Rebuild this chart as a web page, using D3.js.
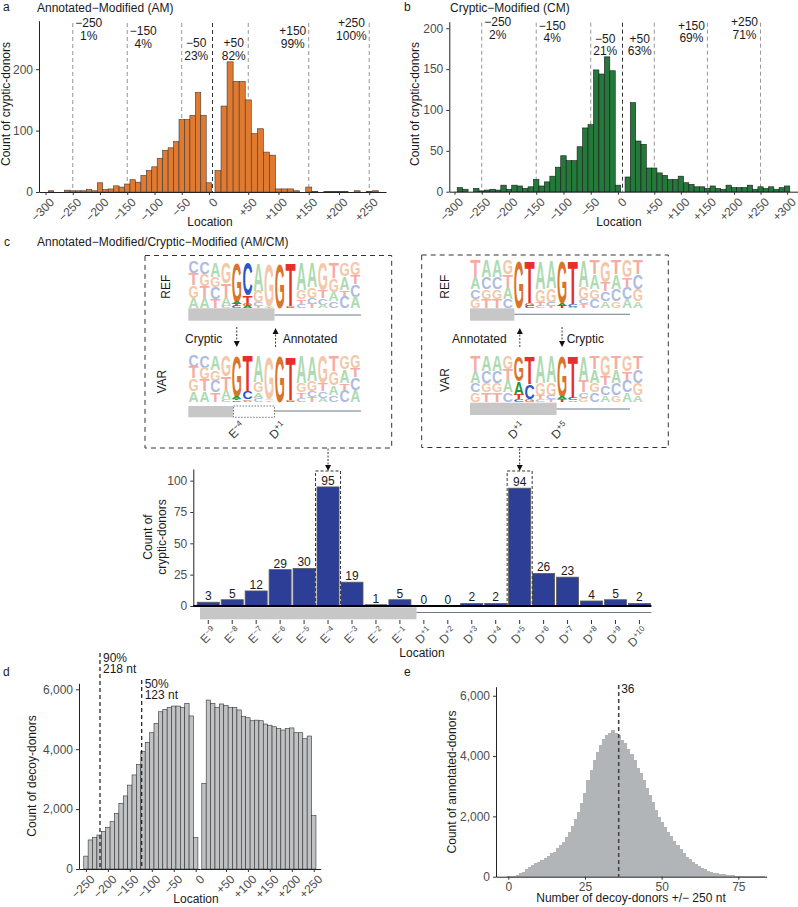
<!DOCTYPE html>
<html>
<head>
<meta charset="utf-8">
<script src="https://cdn.jsdelivr.net/npm/d3@7/dist/d3.min.js"></script>
<style>
html,body{margin:0;padding:0;background:#fff;}
svg{display:block;}
</style>
</head>
<body>
<svg id="fig"></svg>
<script>
// ================= DATA =================
// Panel a: Annotated-Modified (AM), bins of 10 nt
const amNegLoc   = [-290,-280,-270,-260,-250,-240,-230,-220,-210,-200,-190,-180,-170,-160,-150,-140,-130,-120,-110,-100,-90,-80,-70,-60,-50,-40,-30,-20,-10,0];
const amNegCount = [2,0,0,3,2,2,2,4,2,15,4,5,10,8,13,20,16,27,35,41,55,68,72,82,118,118,125,162,125,15];
const amPosLoc   = [0,10,20,30,40,50,60,70,80,90,100,110,120,130,140,150,160,170,180,190,200,210,220,230,240,250,260];
const amPosCount = [35,140,212,180,180,150,95,103,65,60,5,5,5,2,0,8,1,0,1,1,1,1,0,2,0,1,2];
const amCuts = [-250,-150,-50,50,150,250];
const amPct  = ["1%","4%","23%","82%","99%","100%"];

// Panel b: Cryptic-Modified (CM)
const cmNegLoc   = [-290,-280,-270,-260,-250,-240,-230,-220,-210,-200,-190,-180,-170,-160,-150,-140,-130,-120,-110,-100,-90,-80,-70,-60,-50,-40,-30,-20,-10,0];
const cmNegCount = [5,3,0,4,1,2,3,2,8,3,8,7,4,6,15,7,12,19,30,44,38,38,55,78,82,149,144,165,148,8];
const cmPosLoc   = [0,10,20,30,40,50,60,70,80,90,100,110,120,130,140,150,160,170,180,190,200,210,220,230,240,250,260,270,280,290,300];
const cmPosCount = [18,109,62,58,29,29,23,20,15,15,19,11,9,6,6,4,7,4,3,8,5,5,5,8,3,6,4,6,3,5,7];
const cmCuts = [-250,-150,-50,50,150,250];
const cmPct  = ["2%","4%","21%","63%","69%","71%"];

// Panel c: exact-location counts
const siteCategory = ["E\u22129","E\u22128","E\u22127","E\u22126","E\u22125","E\u22124","E\u22123","E\u22122","E\u22121","D+1","D+2","D+3","D+4","D+5","D+6","D+7","D+8","D+9","D+10"];
const siteCount    = [3,5,12,29,30,95,19,1,5,0,0,2,2,94,26,23,4,5,2];
const siteHighlight = ["E\u22124","D+5"];

// Panel c sequence logos (column: [letter, probability] from top to bottom)
const logoLeftRef = [
 [["C",.25],["T",.25],["G",.27],["A",.23]],
 [["C",.27],["G",.25],["T",.25],["A",.23]],
 [["A",.33],["G",.22],["C",.25],["T",.20]],
 [["G",.45],["T",.30],["A",.20],["C",.05]],
 [["G",.86],["A",.05],["T",.05],["C",.04]],
 [["C",.72],["T",.20],["G",.04],["A",.04]],
 [["A",.62],["G",.25],["C",.08],["T",.05]],
 [["G",.94],["A",.03],["T",.03]],
 [["G",1]],
 [["T",.96],["G",.02],["C",.02]],
 [["A",.60],["G",.20],["T",.12],["C",.08]],
 [["A",.55],["G",.22],["C",.13],["T",.10]],
 [["G",.60],["T",.18],["C",.14],["A",.08]],
 [["T",.35],["G",.30],["A",.20],["C",.15]],
 [["G",.30],["A",.30],["T",.15],["C",.25]],
 [["G",.28],["T",.20],["C",.27],["A",.25]]
];
const logoLeftVar = [
 [["C",.25],["T",.25],["G",.27],["A",.23]],
 [["C",.27],["G",.25],["T",.25],["A",.23]],
 [["A",.33],["G",.22],["C",.25],["T",.20]],
 [["G",.45],["T",.30],["A",.20],["C",.05]],
 [["G",.90],["A",.04],["T",.03],["C",.03]],
 [["T",.78],["C",.17],["G",.03],["A",.02]],
 [["A",.58],["G",.22],["A",.12],["C",.08]],
 [["G",.94],["A",.03],["T",.03]],
 [["G",1]],
 [["T",.96],["G",.02],["C",.02]],
 [["A",.60],["G",.20],["T",.12],["C",.08]],
 [["A",.55],["G",.22],["C",.13],["T",.10]],
 [["G",.60],["T",.18],["C",.14],["A",.08]],
 [["T",.35],["G",.30],["A",.20],["C",.15]],
 [["G",.30],["A",.30],["T",.15],["C",.25]],
 [["G",.28],["T",.20],["C",.27],["A",.25]]
];
const logoRightRef = [
 [["T",.35],["A",.25],["C",.20],["G",.20]],
 [["A",.35],["C",.25],["G",.20],["T",.20]],
 [["A",.35],["C",.25],["G",.20],["T",.20]],
 [["G",.30],["T",.25],["A",.25],["C",.20]],
 [["G",1]],
 [["T",.90],["G",.05],["C",.05]],
 [["A",.60],["G",.28],["T",.07],["C",.05]],
 [["A",.58],["G",.30],["C",.07],["T",.05]],
 [["G",.90],["A",.05],["T",.05]],
 [["T",.92],["C",.05],["A",.03]],
 [["A",.55],["G",.25],["C",.12],["T",.08]],
 [["T",.30],["A",.30],["G",.20],["C",.20]],
 [["G",.45],["T",.20],["C",.20],["A",.15]],
 [["T",.30],["A",.30],["C",.25],["G",.15]],
 [["G",.35],["T",.20],["C",.25],["A",.20]],
 [["T",.30],["C",.30],["G",.25],["A",.15]]
];
const logoRightVar = [
 [["T",.35],["A",.25],["C",.20],["G",.20]],
 [["A",.35],["C",.25],["G",.20],["T",.20]],
 [["A",.35],["C",.25],["G",.20],["T",.20]],
 [["G",.30],["T",.25],["A",.25],["C",.20]],
 [["G",.55],["A",.30],["T",.10],["C",.05]],
 [["T",.62],["C",.33],["G",.05]],
 [["A",.60],["G",.28],["T",.07],["C",.05]],
 [["A",.58],["G",.30],["C",.07],["T",.05]],
 [["G",.90],["A",.05],["T",.05]],
 [["T",.92],["C",.05],["A",.03]],
 [["A",.55],["T",.25],["C",.12],["G",.08]],
 [["T",.30],["A",.30],["G",.20],["C",.20]],
 [["G",.45],["T",.20],["C",.20],["A",.15]],
 [["T",.30],["A",.30],["C",.25],["G",.15]],
 [["G",.35],["T",.20],["C",.25],["A",.20]],
 [["T",.30],["C",.30],["G",.25],["A",.15]]
];
const logoVividCols = [4,5,8,9];

// Panel d: decoy-donors
const decoyNegLoc   = [-250,-240,-230,-220,-210,-200,-190,-180,-170,-160,-150,-140,-130,-120,-110,-100,-90,-80,-70,-60,-50,-40,-30,-20,-10,0];
const decoyNegCount = [430,970,1050,1135,1250,1390,1580,1860,2190,2440,2800,3140,3490,3920,4230,4550,4860,5250,5330,5390,5440,5440,5400,5530,5110,1050];
const decoyPosLoc   = [0,10,20,30,40,50,60,70,80,90,100,110,120,130,140,150,160,170,180,190,200,210,220,230,240,250];
const decoyPosCount = [2860,5640,5530,5400,5510,5460,5400,5390,5310,5090,5050,4950,4970,4950,4840,4800,4750,4690,4640,4690,4710,4550,4550,4350,4440,1780];
const decoyCuts   = [-218,-123];
const decoyCutPct = ["90%","50%"];
const decoyCutNt  = ["218 nt","123 nt"];

// Panel e: number of decoy-donors per annotated donor
const numDecoy = [0,1,2,3,4,5,6,7,8,9,10,11,12,13,14,15,16,17,18,19,20,21,22,23,24,25,26,27,28,29,30,31,32,33,34,35,36,37,38,39,40,41,42,43,44,45,46,47,48,49,50,51,52,53,54,55,56,57,58,59,60,61,62,63,64,65,66,67,68,69,70,71,72,73,74,75,76,77,78,79,80,81,82,83,84,85];
const annotCount = [10,12,20,55,110,165,245,310,390,440,500,550,610,685,775,830,940,1050,1160,1330,1490,1680,1900,2150,2430,2760,3200,3540,3870,4140,4360,4550,4700,4770,4860,4750,4700,4530,4420,4250,4070,3870,3620,3430,3200,2930,2710,2490,2210,1990,1820,1660,1490,1350,1190,1050,910,775,665,575,500,420,355,300,245,200,165,135,110,90,77,66,55,44,33,33,30,25,20,18,15,12,10,8,6,5];
const medianDecoy = 36;

// ================= DRAWING =================
const FONT = '"Liberation Sans", Arial, Helvetica, sans-serif';
const svg = d3.select("#fig").attr("width",798).attr("height",907)
  .attr("font-family",FONT).style("background","#fff");
const fmtLoc = v => v>0 ? "+"+v : (v<0 ? "\u2212"+(-v) : "0");
const TICK_COL = "#4d4d4d";

function styleAxis(ax, fs){
  ax.attr("font-size",fs||12).attr("font-family",FONT);
  ax.selectAll(".tick text").attr("fill",TICK_COL);
  ax.selectAll(".tick line").attr("stroke","#333");
  ax.select(".domain").attr("stroke","#222").attr("stroke-width",1);
}
function drawHist(g, locs, counts, x, y, fill, stroke, w){
  g.append("g").selectAll("rect").data(locs.map((l,i)=>({l,c:counts[i]}))).join("rect")
    .attr("x",d=>x(d.l-w/2)).attr("width",d=>x(d.l+w/2)-x(d.l-w/2))
    .attr("y",d=>y(d.c)).attr("height",d=>y(0)-y(d.c))
    .attr("fill",fill).attr("stroke",stroke).attr("stroke-width",0.6);
}
function rotatedBottomAxis(g, x, ticks, yPos){
  const ax = g.append("g").attr("transform",`translate(0,${yPos})`)
    .call(d3.axisBottom(x).tickValues(ticks).tickFormat(fmtLoc).tickSize(3).tickSizeOuter(0));
  styleAxis(ax,12);
  ax.selectAll(".tick text").attr("x",0).attr("y",0).attr("dy","0.71em")
    .attr("text-anchor","end").attr("transform","translate(3,5) rotate(-45)");
  return ax;
}
function leftAxis(g, y, ticks, xPos, fmt){
  const ax = g.append("g").attr("transform",`translate(${xPos},0)`)
    .call(d3.axisLeft(y).tickValues(ticks).tickSize(3).tickSizeOuter(0).tickFormat(fmt||d3.format("d")));
  styleAxis(ax,12);
  return ax;
}
function text(g, x, y, s, opts){
  opts = opts||{};
  const t = g.append("text").attr("x",x).attr("y",y).text(s)
    .attr("font-size",opts.size||12).attr("fill",opts.fill||"#1a1a1a")
    .attr("text-anchor",opts.anchor||"start");
  if(opts.rotate) t.attr("transform",`rotate(${opts.rotate},${x},${y})`);
  return t;
}
function cutLines(g, cuts, pcts, xn, xp, y, yTop, rowsY){
  const yb = y(0);
  cuts.forEach((c,i)=>{
    const x = c<0 ? xn(c) : xp(c);
    g.append("line").attr("x1",x).attr("x2",x).attr("y1",yTop).attr("y2",yb)
      .attr("stroke","#8a8a8a").attr("stroke-width",0.9).attr("stroke-dasharray","4,3");
    const t = g.append("text").attr("font-size",12).attr("fill","#1a1a1a").attr("text-anchor","middle");
    const t1 = t.append("tspan").text(fmtLoc(c));
    const t2 = t.append("tspan").text(pcts[i]);
    const w = Math.max(t1.node().getComputedTextLength(), t2.node().getComputedTextLength());
    const cx = c<0 ? x+2.5+w/2 : x-2.5-w/2;
    t1.attr("x",cx).attr("y",rowsY[i]);
    t2.attr("x",cx).attr("y",rowsY[i]+12.5);
  });
  const xm = xn.range()[1];
  g.append("line").attr("x1",xm).attr("x2",xm).attr("y1",yTop).attr("y2",yb)
    .attr("stroke","#333").attr("stroke-width",1).attr("stroke-dasharray","4,3");
}

// ---------- Panel a ----------
{
  const g = svg.append("g");
  const y = d3.scaleLinear().domain([0,279]).range([192,20.7]);
  const xn = d3.scaleLinear().domain([-312,6.5]).range([39,212.5]);
  const xp = d3.scaleLinear().domain([-9.1,277.7]).range([212.5,386]);
  cutLines(g, amCuts, amPct, xn, xp, y, 23, [27,35,47,47,35,27]);
  drawHist(g, amNegLoc, amNegCount, xn, y, "#e07a30", "#3a3a3a", 10);
  drawHist(g, amPosLoc, amPosCount, xp, y, "#e07a30", "#3a3a3a", 10);
  leftAxis(g, y, [0,100,200], 39);
  rotatedBottomAxis(g, xn, [-300,-250,-200,-150,-100,-50,0], 192);
  rotatedBottomAxis(g, xp, [50,100,150,200,250], 192);
  text(g, 3, 11, "a");
  text(g, 37, 12, "Annotated\u2212Modified (AM)");
  text(g, 10, 104, "Count of cryptic-donors", {anchor:"middle", rotate:-90});
  text(g, 210, 226, "Location", {anchor:"middle"});
}

// ---------- Panel b ----------
{
  const g = svg.append("g");
  const y = d3.scaleLinear().domain([0,208]).range([191.7,21.7]);
  const xn = d3.scaleLinear().domain([-309.5,8.3]).range([449.3,622.5]);
  const xp = d3.scaleLinear().domain([-9.8,320.5]).range([622.5,798]);
  cutLines(g, cmCuts, cmPct, xn, xp, y, 22.7, [26,29.5,42.5,42.5,29.5,26]);
  drawHist(g, cmNegLoc, cmNegCount, xn, y, "#24793a", "#1b1b1b", 10);
  drawHist(g, cmPosLoc, cmPosCount, xp, y, "#24793a", "#1b1b1b", 10);
  leftAxis(g, y, [0,50,100,150,200], 449.3);
  rotatedBottomAxis(g, xn, [-300,-250,-200,-150,-100,-50,0], 191.7);
  rotatedBottomAxis(g, xp, [50,100,150,200,250,300], 191.7);
  text(g, 404, 11, "b");
  text(g, 450, 12, "Cryptic\u2212Modified (CM)");
  text(g, 419, 104, "Count of cryptic-donors", {anchor:"middle", rotate:-90});
  text(g, 619, 226, "Location", {anchor:"middle"});
}

// ---------- Panel c ----------
const VIVID = {A:"#1c9a3c", C:"#2a57c6", G:"#d9742b", T:"#e8302b"};
const FADED = {A:"#acdab2", C:"#adbbe2", G:"#f3c7a8", T:"#f6aba3"};
function drawLogo(g, cols, x0, colW, yTop, yBot){
  const H = yBot - yTop;
  cols.forEach((col,i)=>{
    let yy = yTop;
    col.forEach(([L,f])=>{
      const h = f*H;
      if(h >= 0.8){
        g.append("text").text(L)
          .attr("x", x0+i*colW+colW*0.03).attr("y", yy+h)
          .attr("font-size", h/0.73).attr("font-weight","bold").attr("font-family",FONT)
          .attr("textLength",colW*0.94).attr("lengthAdjust","spacingAndGlyphs")
          .attr("fill", logoVividCols.includes(i) ? VIVID[L] : FADED[L]);
      }
      yy += h;
    });
  });
}
function supLabel(g, x, y, s, size){
  const t = g.append("text").attr("font-size",size).attr("fill","#333")
    .attr("text-anchor","end").attr("transform",`translate(${x},${y}) rotate(-45)`).attr("dy","0.71em");
  t.append("tspan").text(s[0]);
  t.append("tspan").attr("font-size",size*0.68).attr("dy",-size*0.38).text(s.slice(1));
  return t;
}
function dashArrow(g, x, y1, y2){
  const s = Math.sign(y2-y1);
  g.append("line").attr("x1",x).attr("x2",x).attr("y1",y1).attr("y2",y2-s*5)
    .attr("stroke","#222").attr("stroke-width",0.9).attr("stroke-dasharray","2,1.5");
  g.append("path").attr("d",`M${x-3},${y2-s*6}L${x+3},${y2-s*6}L${x},${y2}Z`).attr("fill","#111");
}
{
  const g = svg.append("g");
  text(g, 4, 246, "c");
  text(g, 37, 246, "Annotated\u2212Modified/Cryptic\u2212Modified (AM/CM)");

  // logo boxes
  g.append("rect").attr("x",145).attr("y",255.5).attr("width",246.7).attr("height",192.5)
    .attr("fill","none").attr("stroke","#333").attr("stroke-width",1).attr("stroke-dasharray","5,4");
  g.append("rect").attr("x",421.7).attr("y",255).attr("width",246.6).attr("height",192.5)
    .attr("fill","none").attr("stroke","#333").attr("stroke-width",1).attr("stroke-dasharray","5,4");

  // left logos
  const cwL = 10.77, x0L = 188.3;
  drawLogo(g, logoLeftRef, x0L, cwL, 261.7, 308.3);
  drawLogo(g, logoLeftVar, x0L, cwL, 355, 401.7);
  g.append("rect").attr("x",x0L).attr("y",308.3).attr("width",cwL*8).attr("height",12.4).attr("fill","#c7c7c7");
  g.append("line").attr("x1",x0L+cwL*8).attr("x2",361).attr("y1",315).attr("y2",315).attr("stroke","#6b7b8b").attr("stroke-width",1.1);
  g.append("rect").attr("x",x0L).attr("y",406).attr("width",cwL*4.2).attr("height",11.3).attr("fill","#c7c7c7");
  g.append("rect").attr("x",x0L+cwL*4.2).attr("y",406).attr("width",cwL*3.8).attr("height",11.3)
    .attr("fill","#fff").attr("stroke","#555").attr("stroke-width",0.8).attr("stroke-dasharray","1.5,1.5");
  g.append("line").attr("x1",x0L+cwL*8).attr("x2",361).attr("y1",411).attr("y2",411).attr("stroke","#6b7b8b").attr("stroke-width",1.1);
  text(g, 170, 286.7, "REF", {anchor:"middle", rotate:-90});
  text(g, 166, 381.7, "VAR", {anchor:"middle", rotate:-90});
  text(g, 185, 342.5, "Cryptic");
  dashArrow(g, x0L+cwL*4.5, 327, 347);
  text(g, 282.7, 342.5, "Annotated");
  dashArrow(g, x0L+cwL*8.1, 347, 328);
  supLabel(g, x0L+cwL*4.5+3, 421, "E\u22124", 12);
  supLabel(g, x0L+cwL*8.5+1, 421, "D+1", 12);

  // right logos
  const cwR = 10.83, x0R = 470;
  drawLogo(g, logoRightRef, x0R, cwR, 260, 308.3);
  drawLogo(g, logoRightVar, x0R, cwR, 355, 401.7);
  g.append("rect").attr("x",x0R).attr("y",308.3).attr("width",cwR*4.1).attr("height",12.4).attr("fill","#c7c7c7");
  g.append("line").attr("x1",x0R+cwR*4.1).attr("x2",630).attr("y1",314.3).attr("y2",314.3).attr("stroke","#6b7b8b").attr("stroke-width",1.1);
  g.append("rect").attr("x",x0R).attr("y",402.7).attr("width",cwR*8).attr("height",12.3).attr("fill","#c7c7c7");
  g.append("line").attr("x1",x0R+cwR*8).attr("x2",630).attr("y1",409).attr("y2",409).attr("stroke","#6b7b8b").attr("stroke-width",1.1);
  text(g, 449, 286.7, "REF", {anchor:"middle", rotate:-90});
  text(g, 449, 380, "VAR", {anchor:"middle", rotate:-90});
  text(g, 506.7, 342.5, "Annotated", {anchor:"end"});
  dashArrow(g, x0R+cwR*4.6, 347, 328);
  text(g, 566.7, 342.5, "Cryptic");
  dashArrow(g, x0R+cwR*8.5, 327, 347);
  supLabel(g, x0R+cwR*4.5+1, 421, "D+1", 12);
  supLabel(g, x0R+cwR*8.5+1, 421, "D+5", 12);

  // bar chart
  const band = d3.scaleBand().domain(siteCategory).range([196.3,651.4]).paddingInner(0.08).paddingOuter(0.04);
  const y = d3.scaleLinear().domain([0,109.3]).range([606,469]);
  const data = siteCategory.map((s,i)=>({s,c:siteCount[i]}));

  // x axis ticks (below the exon bar)
  const ax = g.append("g").attr("transform","translate(0,606)")
    .call(d3.axisBottom(band).tickSize(18).tickSizeOuter(0));
  ax.select(".domain").remove();
  ax.selectAll(".tick line").attr("y1",14).attr("y2",18).attr("stroke","#333");
  ax.selectAll(".tick text").each(function(d){
    const t = d3.select(this);
    t.text(null).attr("x",0).attr("y",0).attr("dy","0.71em").attr("text-anchor","end")
      .attr("transform","translate(3,20) rotate(-45)").attr("font-size",12).attr("fill",TICK_COL).attr("font-family",FONT);
    t.append("tspan").text(d[0]);
    t.append("tspan").attr("font-size",8).attr("dy",-4.5).text(d.slice(1));
  });

  // exon bar and intron line
  const exStart = band(siteCategory[0]) + 2.7;
  const exEnd = (band("E\u22121") + band.bandwidth() + band("D+1"))/2 + 4.6;
  g.append("rect").attr("x",exStart).attr("y",607.3).attr("width",exEnd-exStart).attr("height",12).attr("fill","#c7c7c7");
  g.append("line").attr("x1",exEnd).attr("x2",band.range()[1]).attr("y1",612.5).attr("y2",612.5)
    .attr("stroke","#6b7b8b").attr("stroke-width",1.1);

  g.append("g").selectAll("rect").data(data).join("rect")
    .attr("x",d=>band(d.s)).attr("width",band.bandwidth())
    .attr("y",d=>y(d.c)).attr("height",d=>y(0)-y(d.c))
    .attr("fill","#2c3e96").attr("stroke","#5a5a5a").attr("stroke-width",0.8);
  g.append("g").selectAll("text").data(data).join("text")
    .attr("x",d=>band(d.s)+band.bandwidth()/2).attr("y",d=>y(d.c)-2)
    .attr("text-anchor","middle").attr("font-size",12).attr("fill","#1a1a1a").text(d=>d.c);

  siteHighlight.forEach(s=>{
    g.append("rect").attr("x",band(s)-1.5).attr("y",471).attr("width",band.bandwidth()+3).attr("height",606-471)
      .attr("fill","none").attr("stroke","#333").attr("stroke-width",1).attr("stroke-dasharray","3,2");
    dashArrow(g, band(s)+band.bandwidth()/2, 448.5, 471);
  });

  leftAxis(g, y, [0,25,50,75,100], 193.3);
  g.append("line").attr("x1",193.3).attr("x2",band.range()[1]).attr("y1",606).attr("y2",606)
    .attr("stroke","#000").attr("stroke-width",2);
  const yl = g.append("text").attr("font-size",12).attr("fill","#1a1a1a").attr("text-anchor","middle")
    .attr("transform","translate(152,537) rotate(-90)");
  yl.append("tspan").attr("x",0).attr("y",0).text("Count of");
  yl.append("tspan").attr("x",0).attr("y",14).text("cryptic-donors");
  text(g, 422, 657, "Location", {anchor:"middle"});
}

// ---------- Panel d ----------
{
  const g = svg.append("g");
  const y = d3.scaleLinear().domain([0,6200]).range([869,683.3]);
  const xn = d3.scaleLinear().domain([-265.8,9.8]).range([79,200]);
  const xp = d3.scaleLinear().domain([-9.1,265.8]).range([200,320.7]);
  drawHist(g, decoyNegLoc, decoyNegCount, xn, y, "#bfc1c2", "#333", 10);
  drawHist(g, decoyPosLoc, decoyPosCount, xp, y, "#bfc1c2", "#333", 10);
  const tops = [653, 680];
  const labY = [662, 688];
  decoyCuts.forEach((c,i)=>{
    const x = xn(c);
    g.append("line").attr("x1",x).attr("x2",x).attr("y1",tops[i]).attr("y2",y(0))
      .attr("stroke","#1a1a1a").attr("stroke-width",1.2).attr("stroke-dasharray","4,3");
    text(g, x+3, labY[i], decoyCutPct[i]);
    text(g, x+3, labY[i]+10.5, decoyCutNt[i]);
  });
  leftAxis(g, y, [0,2000,4000,6000], 79, d3.format(","));
  rotatedBottomAxis(g, xn, [-250,-200,-150,-100,-50,0], 869);
  rotatedBottomAxis(g, xp, [50,100,150,200,250], 869);
  text(g, 3, 676, "d");
  text(g, 36, 776, "Count of decoy-donors", {anchor:"middle", rotate:-90});
  text(g, 196, 903, "Location", {anchor:"middle"});
}

// ---------- Panel e ----------
{
  const g = svg.append("g");
  const y = d3.scaleLinear().domain([0,6300]).range([876.7,686.7]);
  const x = d3.scaleLinear().domain([-4,84.25]).range([496,766.7]);
  g.append("g").attr("shape-rendering","crispEdges")
    .selectAll("rect").data(numDecoy.map((n,i)=>({n,c:annotCount[i]}))).join("rect")
    .attr("x",d=>x(d.n-0.5)).attr("width",d=>x(d.n+0.5)-x(d.n-0.5)+1)
    .attr("y",d=>y(d.c)).attr("height",d=>y(0)-y(d.c)).attr("fill","#b2b5b7");
  const xm = x(medianDecoy);
  g.append("line").attr("x1",xm).attr("x2",xm).attr("y1",685).attr("y2",y(0))
    .attr("stroke","#444").attr("stroke-width",1.6).attr("stroke-dasharray","4,3");
  text(g, xm+2.5, 693, String(medianDecoy));
  leftAxis(g, y, [0,2000,4000,6000], 496, d3.format(","));
  const ax = g.append("g").attr("transform","translate(0,876.7)")
    .call(d3.axisBottom(x).tickValues([0,25,50,75]).tickSize(3).tickSizeOuter(0));
  styleAxis(ax,12);
  text(g, 404, 676, "e");
  text(g, 456, 782, "Count of annotated-donors", {anchor:"middle", rotate:-90});
  text(g, 631, 902, "Number of decoy-donors +/\u2212 250 nt", {anchor:"middle"});
}
</script>
</body>
</html>
